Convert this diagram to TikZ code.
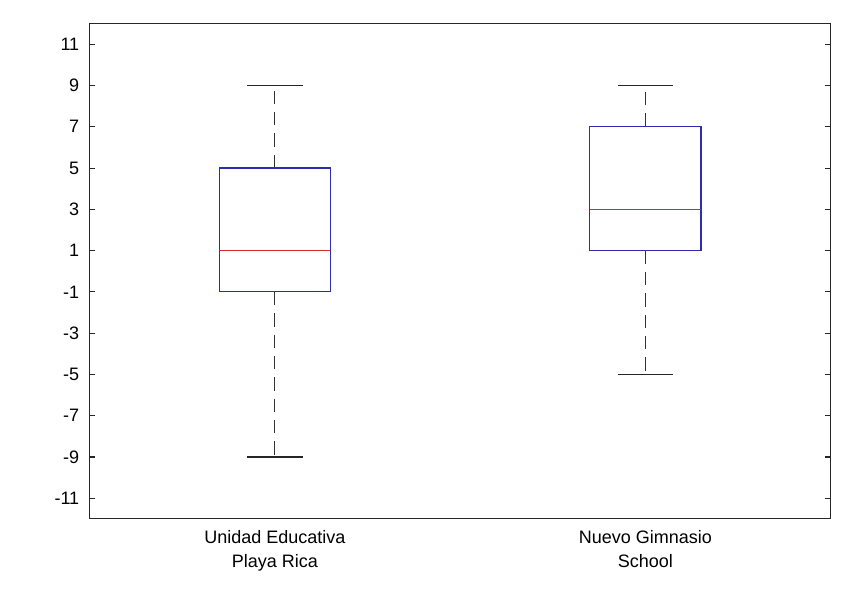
\documentclass[tikz,border=0pt]{standalone}
\usepackage{fontspec}
\setmainfont{Liberation Sans}
\definecolor{boxblue}{RGB}{45,45,175}
\definecolor{medred}{RGB}{215,40,40}

\begin{document}
\begin{tikzpicture}[font=\fontsize{13.5}{16}\selectfont,
  axisline/.style={line width=0.8pt, black!85},
  boxline/.style={line width=0.9pt, boxblue},
  medline/.style={line width=0.9pt, medred},
  whisk/.style={line width=0.8pt, black!80, dash pattern=on 10pt off 6pt},
  ticklab/.style={anchor=east, inner sep=0pt, xshift=-7.5pt},
  grplab/.style={anchor=base, inner sep=0pt}]
\useasboundingbox[fill=white] (0,0) rectangle (647.25pt,445.5pt);
\begin{scope}[shift={(-71.85pt,242.06pt)}, x=277.95pt, y=15.48pt]
% axes frame
\draw[axisline] (0.5,-12) rectangle (2.5,12);
% y ticks on both sides
\foreach \v in {-11,-9,...,11} {
  \draw[axisline] (0.5,\v) -- ++(4pt,0);
  \draw[axisline] (2.5,\v) -- ++(-4pt,0);
  \node[ticklab] (tick\v) at (0.5,\v) {\v};
}
% boxes: position / low / q1 / median / q3 / high
\foreach \p/\lo/\qa/\md/\qb/\hi in {1/-9/-1/1/5/9, 2/-5/1/3/7/9} {
  \draw[whisk] (\p,\qb) -- (\p,\hi);
  \draw[whisk] (\p,\qa) -- (\p,\lo);
  \draw[axisline] (\p-0.075,\hi) -- (\p+0.075,\hi);
  \draw[axisline] (\p-0.075,\lo) -- (\p+0.075,\lo);
  \draw[boxline] (\p-0.15,\qa) rectangle (\p+0.15,\qb);
  \draw[medline] (\p-0.15,\md) -- (\p+0.15,\md);
}
% group labels
\node[grplab] (grpAa) at (1,-13.21) {Unidad Educativa};
\node[grplab] (grpAb) at (1,-14.37) {Playa Rica};
\node[grplab] (grpBa) at (2,-13.21) {Nuevo Gimnasio};
\node[grplab] (grpBb) at (2,-14.37) {School};
\end{scope}
\end{tikzpicture}
\end{document}
